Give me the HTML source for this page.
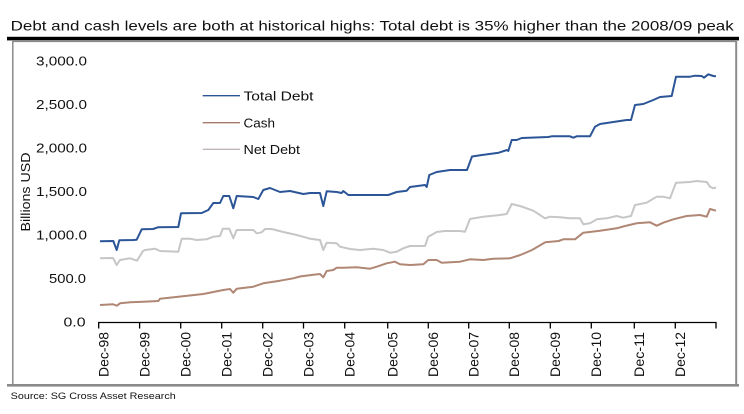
<!DOCTYPE html>
<html>
<head>
<meta charset="utf-8">
<style>
  html,body{margin:0;padding:0;background:#fff;}
  svg{display:block;}
  text{font-family:"Liberation Sans",Arial,sans-serif;fill:#111;}
</style>
</head>
<body>
<svg width="744" height="414" viewBox="0 0 744 414" xmlns="http://www.w3.org/2000/svg">
  <!-- Title -->
  <text x="10.7" y="30.5" font-size="14" textLength="723" lengthAdjust="spacingAndGlyphs">Debt and cash levels are both at historical highs: Total debt is 35% higher than the 2008/09 peak</text>
  <!-- Thick rule -->
  <rect x="7" y="36.8" width="732" height="3.6" fill="#000"/>
  <!-- Box -->
  <line x1="12.5" y1="41.5" x2="736" y2="41.5" stroke="#8a8a8a" stroke-width="1.2"/>
  <line x1="12.8" y1="41" x2="12.8" y2="385" stroke="#8a8a8a" stroke-width="1.5"/>
  <line x1="736.2" y1="41" x2="736.2" y2="385" stroke="#8a8a8a" stroke-width="2"/>
  <rect x="7" y="384" width="732" height="2.6" fill="#8a8a8a"/>

  <!-- Y-axis label -->
  <text transform="translate(29.8,192) rotate(-90)" font-size="12.5" text-anchor="middle" textLength="79" lengthAdjust="spacingAndGlyphs">Billions USD</text>

  <!-- Y tick labels -->
  <g font-size="12.5" text-anchor="end">
    <text x="87" y="65.7" textLength="51" lengthAdjust="spacingAndGlyphs">3,000.0</text>
    <text x="87" y="109.2" textLength="51" lengthAdjust="spacingAndGlyphs">2,500.0</text>
    <text x="87" y="152.7" textLength="51" lengthAdjust="spacingAndGlyphs">2,000.0</text>
    <text x="87" y="196.2" textLength="51" lengthAdjust="spacingAndGlyphs">1,500.0</text>
    <text x="87" y="239.7" textLength="51" lengthAdjust="spacingAndGlyphs">1,000.0</text>
    <text x="86" y="283.2" textLength="37" lengthAdjust="spacingAndGlyphs">500.0</text>
    <text x="85.5" y="326.7" textLength="22" lengthAdjust="spacingAndGlyphs">0.0</text>
  </g>

  <!-- X axis -->
  <line x1="98.3" y1="322.5" x2="716.5" y2="322.5" stroke="#000" stroke-width="1.3"/>
  <g stroke="#000" stroke-width="1.3">
    <line x1="98.7" y1="322" x2="98.7" y2="328.5"/>
    <line x1="139.6" y1="322" x2="139.6" y2="328.5"/>
    <line x1="180.7" y1="322" x2="180.7" y2="328.5"/>
    <line x1="221.7" y1="322" x2="221.7" y2="328.5"/>
    <line x1="262.7" y1="322" x2="262.7" y2="328.5"/>
    <line x1="303.5" y1="322" x2="303.5" y2="328.5"/>
    <line x1="344.7" y1="322" x2="344.7" y2="328.5"/>
    <line x1="387.7" y1="322" x2="387.7" y2="328.5"/>
    <line x1="428.3" y1="322" x2="428.3" y2="328.5"/>
    <line x1="468.7" y1="322" x2="468.7" y2="328.5"/>
    <line x1="509.3" y1="322" x2="509.3" y2="328.5"/>
    <line x1="550.3" y1="322" x2="550.3" y2="328.5"/>
    <line x1="591.3" y1="322" x2="591.3" y2="328.5"/>
    <line x1="634.3" y1="322" x2="634.3" y2="328.5"/>
    <line x1="675.3" y1="322" x2="675.3" y2="328.5"/>
    <line x1="716" y1="322" x2="716" y2="328.5"/>
  </g>
  <!-- X tick labels -->
  <g font-size="14">
    <text transform="translate(108.5,377) rotate(-90)" textLength="45" lengthAdjust="spacingAndGlyphs">Dec-98</text>
    <text transform="translate(149.4,377) rotate(-90)" textLength="45" lengthAdjust="spacingAndGlyphs">Dec-99</text>
    <text transform="translate(190.5,377) rotate(-90)" textLength="45" lengthAdjust="spacingAndGlyphs">Dec-00</text>
    <text transform="translate(231.5,377) rotate(-90)" textLength="45" lengthAdjust="spacingAndGlyphs">Dec-01</text>
    <text transform="translate(272.5,377) rotate(-90)" textLength="45" lengthAdjust="spacingAndGlyphs">Dec-02</text>
    <text transform="translate(313.3,377) rotate(-90)" textLength="45" lengthAdjust="spacingAndGlyphs">Dec-03</text>
    <text transform="translate(354.5,377) rotate(-90)" textLength="45" lengthAdjust="spacingAndGlyphs">Dec-04</text>
    <text transform="translate(397.5,377) rotate(-90)" textLength="45" lengthAdjust="spacingAndGlyphs">Dec-05</text>
    <text transform="translate(438.1,377) rotate(-90)" textLength="45" lengthAdjust="spacingAndGlyphs">Dec-06</text>
    <text transform="translate(478.5,377) rotate(-90)" textLength="45" lengthAdjust="spacingAndGlyphs">Dec-07</text>
    <text transform="translate(519.1,377) rotate(-90)" textLength="45" lengthAdjust="spacingAndGlyphs">Dec-08</text>
    <text transform="translate(560.1,377) rotate(-90)" textLength="45" lengthAdjust="spacingAndGlyphs">Dec-09</text>
    <text transform="translate(601.1,377) rotate(-90)" textLength="45" lengthAdjust="spacingAndGlyphs">Dec-10</text>
    <text transform="translate(644.1,377) rotate(-90)" textLength="45" lengthAdjust="spacingAndGlyphs">Dec-11</text>
    <text transform="translate(685.1,377) rotate(-90)" textLength="45" lengthAdjust="spacingAndGlyphs">Dec-12</text>
  </g>

  <!-- Series: Net Debt -->
  <polyline fill="none" stroke="#c6c6c6" stroke-width="2" stroke-linejoin="round" points="100,258.3 113,258 116.7,265 120,260 130,258.3 137,260.7 143,251 145,250 155,248.7 160,251 178.3,251.7 181.7,238.7 190,238.7 196.7,240 206.7,239.3 213.3,236.7 220,236 222.7,228.7 229.3,228.7 233.3,238.3 236.7,230 253.3,230 256.7,233.3 261.7,232.3 265,229 271.7,229 283.3,232 296.7,235 305,237.3 310,238.7 320,240 323.3,250 326.7,242.7 336.7,243.3 340,246.7 350,249 360,250 373.3,248.7 383.3,250 390,252.7 396.7,251.7 403.3,248.3 410,246 425,246 428.3,236.7 436.7,232 445,231 460,231 465,231.7 470,219 483.3,216.7 500,215 506.7,214 511.7,204 520,206 533.3,210.7 545,218.3 550,216.7 560,217.3 570,218.3 580,218.3 583.3,224.3 590,223.3 596.7,219.3 606.7,218.3 616.7,216 623.3,217.7 631,216 635,205 646.7,202.7 656.7,196.7 663.3,196.7 670,198.3 676,182.7 690,182 696.7,181 706.7,182 710,186.7 713.3,188.3 716,187.3"/>

  <!-- Series: Cash -->
  <polyline fill="none" stroke="#b08674" stroke-width="2" stroke-linejoin="round" points="100,305 113,304.3 117,305.7 120,303.3 130,302.3 143.3,301.7 158.3,301 160,298.7 178.3,296.7 203.3,294 223.3,290 230,289 233.3,292.7 236.7,288.7 253.3,286.7 263.3,283.3 280,280.7 293.3,278.3 300,276.5 313.3,274.7 320,274 323.3,277.3 326.7,271 333.3,270 336.7,267.7 343.3,267.7 356.7,267.3 370,268.7 376.7,266.7 386.7,263.3 395,261.7 400,264.3 410,265 423.3,264.3 428.3,260 436.7,260 441.7,262.7 460,261.7 470,259.3 483.3,260 493.3,258.7 510,258.3 520.3,255 532,250 545.3,242.3 558.7,241 563.3,239.3 575,239.3 583.3,232.7 600,230.7 616.7,228.3 625,226 636.7,223.3 650,222.3 656.7,225.7 663.3,222.7 673.3,219.3 686.7,216 700,215 706.7,216.7 710,209 716,210.7"/>

  <!-- Series: Total Debt -->
  <polyline fill="none" stroke="#2b5597" stroke-width="2" stroke-linejoin="round" points="100,241.3 113.3,241 116.7,250 119.3,240.3 133.3,240 136.7,239.7 141.7,229.3 153,229 158,227.3 178.3,227 181,213.3 201.7,213 208.3,210 213.3,203 220,203 223.3,196 229.3,196 233.3,208.3 236.7,196 253.3,197 258.3,199 263.3,190 270,188 280,192 290,191 303.3,194 310,193 320,193 323.3,206 326.7,191.3 336.7,192 341.7,193 343.3,191 348.3,195 388.3,195 396.7,192 406.7,190.7 410,187 425,185 426.7,187 429.3,175 436.7,172 450,170 467,170 472,156.5 482,155 498.7,152.7 507,150 508.3,151 511.7,140 516.7,140 521.7,138 548.3,137 551.7,136.3 570,136.3 573.3,137.7 576.7,136.3 590,136.3 595,126.7 600,124 613.3,122 626.7,120 631,120 635,105 643.3,104 653.3,100 660,97 671.7,96 676,76.7 690,76.7 695,75.7 701.7,76 704,77.7 708.3,74.3 713.3,76 716,76.3"/>

  <!-- Legend -->
  <line x1="202.7" y1="95.7" x2="240" y2="95.7" stroke="#2b5597" stroke-width="1.3"/>
  <line x1="202.7" y1="122.7" x2="240" y2="122.7" stroke="#a87a6a" stroke-width="1.3"/>
  <line x1="202.7" y1="149.3" x2="240" y2="149.3" stroke="#c0b6b6" stroke-width="1.3"/>
  <g font-size="12.5">
    <text x="243.5" y="100.7" textLength="70" lengthAdjust="spacingAndGlyphs">Total Debt</text>
    <text x="243.5" y="127.3" textLength="31.5" lengthAdjust="spacingAndGlyphs">Cash</text>
    <text x="243.5" y="154" textLength="56.5" lengthAdjust="spacingAndGlyphs">Net Debt</text>
  </g>

  <!-- Source -->
  <text x="10.7" y="399" font-size="9.2" textLength="165" lengthAdjust="spacingAndGlyphs">Source: SG Cross Asset Research</text>
</svg>
</body>
</html>
